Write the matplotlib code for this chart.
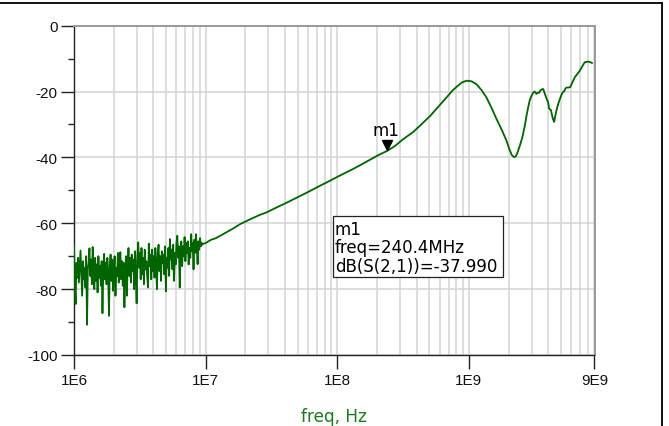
import numpy as np
import matplotlib
matplotlib.use("Agg")
import matplotlib.pyplot as plt
from matplotlib.transforms import offset_copy
from matplotlib.lines import Line2D
from matplotlib.patches import Rectangle

plt.rcParams['axes.unicode_minus'] = False

# ---------------- data ----------------
# noisy low-frequency part of the sweep (log sweep 1 MHz .. 9.6 MHz)
noise_start = 1.0e6
noise_stop = 9.6e6
noise_db = [
    -66.8, -79.0, -84.5, -72.0, -76.5, -70.5, -78.0, -73.0, -68.3, -75.5,
    -82.0, -71.5, -77.0, -73.5, -79.5, -70.0, -90.8, -74.0, -72.0, -67.6,
    -76.0, -71.0, -78.5, -67.2, -75.0, -80.0, -70.5, -77.5, -72.5, -81.0,
    -70.0, -76.5, -73.0, -79.0, -71.5, -87.3, -74.5, -69.3, -77.0, -72.0,
    -78.5, -70.5, -75.0, -88.1, -73.0, -69.5, -77.5, -71.0, -80.5, -74.0,
    -70.0, -82.0, -73.5, -76.0, -69.0, -78.0, -72.5, -68.8, -77.0, -71.5,
    -79.0, -72.0, -85.5, -74.0, -70.0, -82.0, -73.0, -67.5, -76.0, -70.5,
    -78.0, -69.5, -74.5, -71.0, -80.0, -68.5, -75.0, -84.3, -70.0, -65.8,
    -73.5, -69.0, -77.0, -67.5, -75.5, -70.5, -78.5, -68.0, -74.0, -71.5,
    -76.0, -79.5, -66.2, -73.0, -69.5, -77.0, -68.0, -74.5, -70.0, -76.5,
    -67.5, -73.0, -80.0, -69.0, -66.5, -74.5, -70.0, -77.5, -68.5, -72.0,
    -69.5, -75.5, -67.0, -80.7, -70.5, -73.5, -67.5, -76.0, -64.8, -71.0,
    -68.0, -74.0, -66.5, -77.5, -69.0, -72.5, -66.0, -63.8, -70.5, -67.0,
    -79.5, -68.5, -65.5, -73.0, -67.0, -70.0, -64.2, -71.5, -66.0, -69.0,
    -65.5, -72.5, -67.5, -70.5, -63.3, -68.5, -66.0, -74.0, -65.0, -69.0,
    -63.3, -67.5, -72.4, -65.5, -68.0, -64.5, -67.0, -66.0, -66.5, -66.2,
]

# smooth upper part of the sweep
smooth_freq = [
    1.00e7, 1.10e7, 1.20e7, 1.40e7, 1.60e7, 1.82e7, 2.20e7, 2.60e7, 2.90e7, 3.50e7,
    4.20e7, 5.00e7, 6.00e7, 7.40e7, 8.50e7, 9.90e7, 1.15e8, 1.32e8, 1.55e8, 1.77e8,
    2.05e8, 2.404e8, 2.75e8, 3.16e8, 3.77e8, 4.24e8, 5.05e8, 5.68e8, 6.76e8, 7.50e8,
    8.05e8, 8.80e8, 9.59e8, 1.05e9, 1.143e9, 1.25e9, 1.36e9, 1.50e9, 1.62e9, 1.78e9,
    1.93e9, 2.03e9, 2.12e9, 2.20e9, 2.27e9, 2.32e9, 2.44e9, 2.55e9, 2.66e9, 2.75e9,
    2.82e9, 2.90e9, 2.99e9, 3.08e9, 3.16e9, 3.26e9, 3.33e9, 3.41e9, 3.50e9, 3.56e9,
    3.66e9, 3.72e9, 3.77e9, 3.88e9, 4.00e9, 4.06e9, 4.12e9, 4.20e9, 4.30e9, 4.36e9,
    4.44e9, 4.50e9, 4.62e9, 4.75e9, 4.90e9, 5.05e9, 5.19e9, 5.30e9, 5.40e9, 5.51e9,
    5.70e9, 5.90e9, 6.10e9, 6.37e9, 6.65e9, 6.95e9, 7.25e9, 7.59e9, 8.04e9, 8.38e9,
    8.60e9,
]
smooth_db = [
    -66.0, -65.0, -64.5, -63.0, -61.7, -60.3, -58.7, -57.4, -56.7, -55.1,
    -53.6, -52.1, -50.5, -48.6, -47.4, -46.0, -44.7, -43.5, -42.0, -40.7,
    -39.3, -37.99, -36.5, -34.5, -32.3, -30.4, -27.5, -25.2, -21.8, -19.7,
    -18.6, -17.3, -16.7, -16.9, -17.8, -19.6, -21.8, -25.3, -28.3, -31.7,
    -34.9, -37.5, -39.3, -39.9, -39.7, -38.9, -36.4, -33.8, -30.4, -27.0,
    -24.8, -22.6, -21.3, -20.3, -20.0, -20.7, -20.3, -20.4, -19.6, -19.4,
    -19.2, -19.9, -20.6, -22.0, -23.3, -25.0, -25.4, -25.6, -27.5, -28.4,
    -29.2, -28.0, -25.8, -24.0, -22.4, -21.0, -20.1, -19.9, -19.1, -18.8,
    -18.8, -18.6, -17.3, -15.7, -14.7, -13.7, -12.4, -11.1, -10.9, -11.1,
    -11.3,
]

m1_name = "m1"
m1_freq = 240.4e6
m1_db = -37.990

x_ticks = [1e6, 1e7, 1e8, 1e9, 9e9]
x_tick_labels = ["1E6", "1E7", "1E8", "1E9", "9E9"]
y_ticks = [0, -20, -40, -60, -80, -100]
y_tick_labels = ["0", "-20", "-40", "-60", "-80", "-100"]
y_minor_ticks = [-10, -30, -50, -70, -90]
x_label = "freq, Hz"

# ---------------- figure ----------------
W, H = 669, 427
fig = plt.figure(figsize=(W / 100, H / 100), dpi=100)
L, R, T, B = 74, 594.5, 26.7, 356
ax = fig.add_axes([L / W, 1 - B / H, (R - L) / W, (B - T) / H])

noise_freq = np.geomspace(noise_start, noise_stop, len(noise_db))
freq = np.concatenate([noise_freq, np.array(smooth_freq)])
db = np.concatenate([np.array(noise_db), np.array(smooth_db)])

line_color = "#006400"
ax.plot(freq, db, color=line_color, lw=1.3, zorder=3)

ax.set_xscale("log")
ax.set_xlim(1e6, 9e9)
ax.set_ylim(-100, 0)

ax.set_xticks(x_ticks)
ax.set_xticklabels(x_tick_labels)
ax.set_yticks(y_ticks)
ax.set_yticklabels(y_tick_labels)
ax.set_yticks(y_minor_ticks, minor=True)

minor_x = [m * 10.0 ** k for k in range(6, 10) for m in range(2, 10) if m * 10.0 ** k <= 9e9]
ax.set_xticks(minor_x, minor=True)
ax.set_xticklabels([], minor=True)

grid_c = "#d4d4d4"
ax.grid(True, which="both", axis="x", color=grid_c, lw=1.1, zorder=0)
ax.grid(True, which="major", axis="y", color=grid_c, lw=1.1, zorder=0)
ax.set_axisbelow(True)

tick_font = dict(family=["Liberation Sans", "DejaVu Sans"], size=11)
for lab in ax.get_xticklabels() + ax.get_yticklabels():
    lab.set_fontfamily(tick_font["family"])
    lab.set_fontsize(tick_font["size"])
    lab.set_color("#111111")

ax.tick_params(axis="y", which="major", direction="out", length=9.4, width=1.0, pad=2.5, color="#222222")
ax.tick_params(axis="y", which="minor", direction="out", length=4.3, width=1.0, color="#222222")
ax.tick_params(axis="x", which="major", direction="out", length=10, width=1.0, pad=3, color="#222222")
ax.tick_params(axis="x", which="minor", length=0)
ax.yaxis.get_major_ticks()[0].tick1line.set_color("#9a9a9a")

for s in ["left", "bottom"]:
    ax.spines[s].set_color("#222222")
    ax.spines[s].set_linewidth(1.0)
for s in ["top", "right"]:
    ax.spines[s].set_color("#9a9a9a")
    ax.spines[s].set_linewidth(1.4)

# x label
ax.set_xlabel(x_label, family=["DejaVu Sans"], fontsize=12.2, color="#1f7a1f")
ax.xaxis.set_label_coords(0.5, (B - 422.3) / (B - T))
ax.xaxis.label.set_va("baseline")

# marker m1
tri_tr = offset_copy(ax.transData, fig=fig, x=0, y=5.5, units="dots")
ax.plot([m1_freq], [m1_db], marker="v", markersize=7.9, color="black",
        linestyle="none", transform=tri_tr, zorder=5, clip_on=False)
ax.annotate(m1_name, xy=(m1_freq, m1_db), xytext=(-1, 11.4), textcoords="offset points",
            ha="center", va="baseline", family=["DejaVu Sans"], fontsize=12, color="black",
            zorder=6)

# readout box
bx0 = (333.3 - L) / (R - L)
bx1 = (502.7 - L) / (R - L)
by0 = (B - 278.3) / (B - T)
by1 = (B - 217.3) / (B - T)
ax.add_patch(Rectangle((bx0, by0), bx1 - bx0, by1 - by0, transform=ax.transAxes,
                       facecolor="white", edgecolor="#222222", lw=0.9, zorder=4))
tx = (335 - L) / (R - L)
lines = [m1_name,
         "freq=%.1fMHz" % (m1_freq / 1e6),
         "dB(S(2,1))=%.3f" % m1_db]
baselines = [235.0, 253.3, 271.7]
for txt, yb in zip(lines, baselines):
    ax.text(tx, (B - yb) / (B - T), txt, transform=ax.transAxes, ha="left", va="baseline",
            family=["DejaVu Sans"], fontsize=12, color="black", zorder=5)

# outer frame (top and right edges)
fig.add_artist(Line2D([0, 662 / W], [1 - 4 / H, 1 - 4 / H], transform=fig.transFigure,
                      color="black", lw=1.3))
fig.add_artist(Line2D([662 / W, 662 / W], [1 - 4 / H, 0], transform=fig.transFigure,
                      color="black", lw=1.3))

fig.savefig("out.png", dpi=100)
